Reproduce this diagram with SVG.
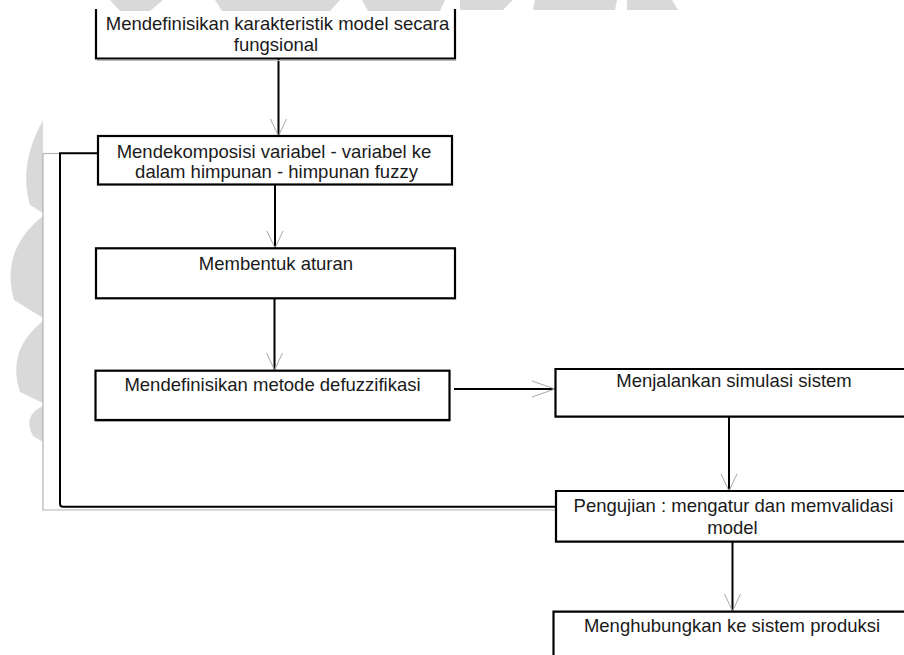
<svg xmlns="http://www.w3.org/2000/svg" width="904" height="655" viewBox="0 0 904 655">
<style>
.box{fill:none;stroke:#000;stroke-width:2.2;stroke-linecap:square}
.sh{fill:none;stroke:#bbb;stroke-width:1}
.t{font-family:"Liberation Sans",Arial,sans-serif;font-size:18.5px;fill:#1a1a1a;text-anchor:middle}
.ln{fill:none;stroke:#000;stroke-width:2}
.gl{fill:none;stroke:#b4b4b4;stroke-width:1.2}
.ah{fill:none;stroke:#a8a8a8;stroke-width:1}
.wm{fill:#d9d9d9}
</style>
<rect width="904" height="655" fill="#fff"/>
<g id="watermark">
<path class="wm" d="M43,120 Q18,165 30,205 L43,213 Z"/>
<path class="wm" d="M43,216 Q0,250 14,300 L43,318 Z"/>
<path class="wm" d="M43,321 Q6,350 20,392 L43,403 Z"/>
<path class="wm" d="M43,406 Q22,415 33,436 L43,442 Z"/>
<path class="wm" d="M110,0 L163,0 L150,11 L120,11 Z"/>
<path class="wm" d="M215,0 L340,0 L330,11 L222,11 Z"/>
<path class="wm" d="M362,0 L445,0 L440,11 L368,11 Z"/>
<path class="wm" d="M460,0 L513,0 L503,10 L460,10 Z"/>
<path class="wm" d="M535,0 L617,0 L615,10 L533,10 Z"/>
<path class="wm" d="M627,0 L672,0 L678,10 L627,10 Z"/>
</g>
<g id="connectors">
<path class="gl" d="M43,153.5 L60,153.5"/>
<path class="gl" d="M43,153.5 L43,510 L556,510"/>
<path class="ln" d="M98,153.3 L60,153.3 L60,504 Q60,506.7 63,506.7 L556,506.7"/>
<path class="ln" d="M278.5,59 L278.5,136"/>
<polyline class="ah" points="270.5,119 278.5,136 286.5,119"/>
<path class="ln" d="M275,185 L275,248"/>
<polyline class="ah" points="267,231 275,248 283,231"/>
<path class="ln" d="M274.5,299 L274.5,370"/>
<polyline class="ah" points="266.5,353 274.5,370 282.5,353"/>
<path class="ln" d="M454,389 L555,389"/>
<polyline class="ah" points="532,381 555,389 532,397"/>
<path class="ln" d="M729,417 L729,491"/>
<polyline class="ah" points="721,474 729,491 737,474"/>
<path class="ln" d="M732.5,542 L732.5,611"/>
<polyline class="ah" points="724.5,594 732.5,611 740.5,594"/>
</g>
<g id="n1">
<path class="sh" d="M97,60.5 L456,60.5"/>
<path class="box" d="M96,10 L96,58.5 L455,58.5 L455,10"/>
<text class="t" x="277.5" y="30">Mendefinisikan karakteristik model secara</text>
<text class="t" x="276" y="51">fungsional</text>
</g>
<g id="n2">
<rect class="box" x="98" y="136" width="354" height="48.5"/>
<text class="t" x="274" y="158">Mendekomposisi variabel - variabel ke</text>
<text class="t" x="276.5" y="178">dalam himpunan - himpunan fuzzy</text>
</g>
<g id="n3">
<rect class="box" x="96" y="248.3" width="359" height="50"/>
<text class="t" x="276" y="270">Membentuk aturan</text>
</g>
<g id="n4">
<path class="sh" d="M95,421.5 L450,421.5"/>
<rect class="box" x="95.5" y="370.7" width="354" height="49.3"/>
<text class="t" x="272.5" y="390.5">Mendefinisikan metode defuzzifikasi</text>
</g>
<g id="n5">
<path class="box" d="M910,369 L555.5,369 L555.5,416.7 L910,416.7"/>
<text class="t" x="734" y="387">Menjalankan simulasi sistem</text>
</g>
<g id="n6">
<path class="box" d="M910,491 L556,491 L556,541.7 L910,541.7"/>
<text class="t" x="733.5" y="512">Pengujian : mengatur dan memvalidasi</text>
<text class="t" x="732.5" y="534">model</text>
</g>
<g id="n7">
<path class="box" d="M910,611.7 L553.5,611.7 L553.5,660"/>
<text class="t" x="732" y="632">Menghubungkan ke sistem produksi</text>
</g>
</svg>
